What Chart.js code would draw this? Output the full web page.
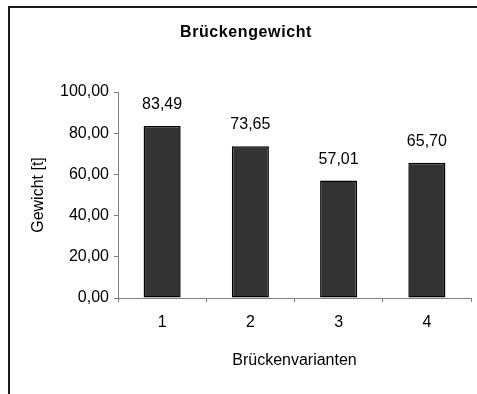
<!DOCTYPE html>
<html>
<head>
<meta charset="utf-8">
<script src="https://cdn.jsdelivr.net/npm/chart.js@4/dist/chart.umd.min.js"></script>
<style>
  html, body { margin: 0; padding: 0; background: #fff; }
  #wrap { width: 477px; height: 394px; }
</style>
</head>
<body>
<div id="wrap"><canvas id="grafik" width="477" height="394"></canvas></div>
<script>
// Brückengewicht je Variante
const varianten = ['1', '2', '3', '4'];
const gewichte = [83.49, 73.65, 57.01, 65.70];
const yTicks = [0, 20, 40, 60, 80, 100];
const titel = 'Brückengewicht';

const fontName = '"Liberation Sans", Arial, sans-serif';

function deutsch(v) {
  return v.toFixed(2).replace('.', ',');
}

// Hintergrund, Rahmen oben und links, Überschrift
const rahmen = {
  id: 'rahmen',
  beforeDraw(chart) {
    const ctx = chart.ctx;
    ctx.save();
    ctx.fillStyle = '#fff';
    ctx.fillRect(0, 0, chart.width, chart.height);
    ctx.strokeStyle = '#1a1a1a';
    ctx.lineWidth = 2;
    ctx.beginPath();
    ctx.moveTo(9, chart.height);
    ctx.lineTo(9, 7);
    ctx.lineTo(chart.width, 7);
    ctx.stroke();

    ctx.font = 'bold 16px ' + fontName;
    if ('letterSpacing' in ctx) ctx.letterSpacing = '0.6px';
    ctx.fillStyle = '#000';
    ctx.textAlign = 'center';
    ctx.textBaseline = 'middle';
    ctx.fillText(titel, 246, 33);
    ctx.restore();
  }
};

// Werte über den Balken
const werte = {
  id: 'werte',
  afterDatasetsDraw(chart) {
    const ctx = chart.ctx;
    const meta = chart.getDatasetMeta(0);
    ctx.save();
    ctx.font = '16px ' + fontName;
    ctx.fillStyle = '#000';
    ctx.textAlign = 'center';
    ctx.textBaseline = 'alphabetic';
    meta.data.forEach((bar, i) => {
      ctx.fillText(deutsch(gewichte[i]), bar.x, bar.y - 17);
    });
    ctx.restore();
  }
};

new Chart(document.getElementById('grafik'), {
  type: 'bar',
  data: {
    labels: varianten,
    datasets: [{
      data: gewichte,
      backgroundColor: '#333333',
      borderColor: '#000',
      borderWidth: 1.5,
      borderSkipped: false,
      barPercentage: 0.42,
      categoryPercentage: 1
    }]
  },
  options: {
    responsive: false,
    animation: false,
    layout: { padding: { left: 0, right: 6, top: 92, bottom: 0 } },
    plugins: {
      legend: { display: false },
      tooltip: { enabled: false },
      title: { display: false }
    },
    scales: {
      x: {
        grid: { offset: true, drawOnChartArea: false, tickLength: 4, color: '#808080' },
        border: { color: '#808080' },
        ticks: { color: '#000', padding: 11, font: { family: fontName, size: 16 } },
        title: {
          display: true,
          text: 'Brückenvarianten',
          color: '#000',
          font: { family: fontName, size: 16 },
          padding: { top: 0, bottom: 24 }
        },
        afterFit(scale) { scale.height = 96; }
      },
      y: {
        min: 0,
        max: 100,
        afterBuildTicks(scale) { scale.ticks = yTicks.map(v => ({ value: v })); },
        grid: { drawOnChartArea: false, tickLength: 4, color: '#808080' },
        border: { color: '#808080' },
        ticks: {
          color: '#000',
          padding: 5,
          font: { family: fontName, size: 16 },
          callback: v => deutsch(v)
        },
        title: {
          display: true,
          text: 'Gewicht [t]',
          color: '#000',
          font: { family: fontName, size: 16 },
          padding: { top: 29, bottom: 0 }
        },
        afterFit(scale) { scale.width = 118; }
      }
    }
  },
  plugins: [rahmen, werte]
});
</script>
</body>
</html>
